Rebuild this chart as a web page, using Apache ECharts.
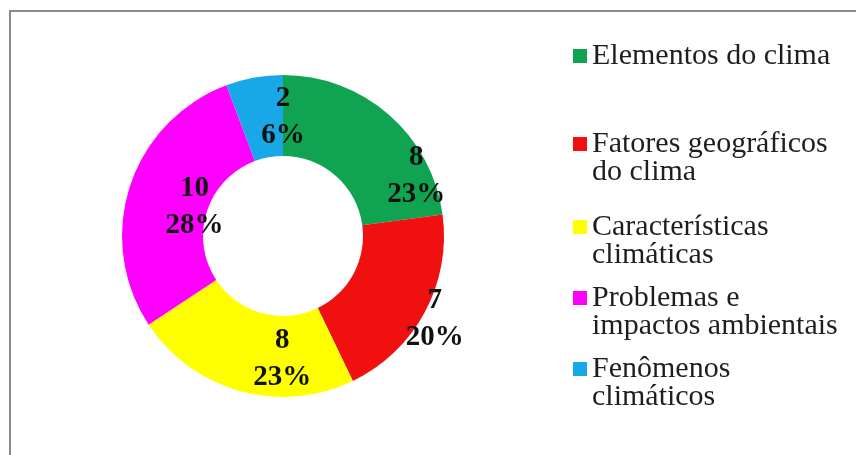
<!DOCTYPE html>
<html>
<head>
<meta charset="utf-8">
<script src="https://cdn.jsdelivr.net/npm/echarts@6/dist/echarts.min.js"></script>
<style>
html,body{margin:0;padding:0;background:#fff;}
#chart{width:856px;height:455px;}
</style>
</head>
<body>
<div id="chart"></div>
<script>
// ---- data ----
const categories = [
  "Elementos do clima",
  "Fatores geográficos do clima",
  "Características climáticas",
  "Problemas e impactos ambientais",
  "Fenômenos climáticos"
];
const legendLabels = [
  "Elementos do clima",
  "Fatores geográficos\ndo clima",
  "Características\nclimáticas",
  "Problemas e\nimpactos ambientais",
  "Fenômenos\nclimáticos"
];
const counts = [8, 7, 8, 10, 2];
const percentLabels = ["23%", "20%", "23%", "28%", "6%"];

// ---- styling ----
const colors = ["#10a452", "#f01010", "#ffff00", "#ff00ff", "#18a8e8"];
const labelShift = [[52, 33], [43, 24], [32, 4], [29, 9], [22, 3]];
const legendIconY = [55, 143, 226, 297, 368];
const legendLineH = 28;

const chart = echarts.init(document.getElementById('chart'), null, {renderer: 'canvas'});

const legends = categories.map(function (c, i) {
  const multi = legendLabels[i].indexOf('\n') >= 0;
  return {
    data: [c],
    orient: 'vertical',
    left: 573,
    top: legendIconY[i] - (multi ? 1.5 * legendLineH : 0.5 * legendLineH),
    padding: 0,
    icon: 'rect',
    itemWidth: 14,
    itemHeight: 14,
    itemGap: 0,
    selectedMode: false,
    formatter: function () {
      return multi ? '\n' + legendLabels[i] : legendLabels[i];
    },
    textStyle: {
      fontFamily: 'Liberation Serif',
      fontSize: 30,
      lineHeight: legendLineH,
      color: '#1e1e1e'
    }
  };
});

chart.setOption({
  backgroundColor: '#ffffff',
  animation: false,
  color: colors,
  legend: legends,
  graphic: [{
    type: 'rect',
    shape: {x: 10, y: 11, width: 900, height: 460},
    style: {fill: 'none', stroke: '#8a8a8a', lineWidth: 2},
    silent: true
  }],
  series: [{
    type: 'pie',
    center: [283, 236],
    radius: [80, 161],
    startAngle: 90,
    clockwise: true,
    avoidLabelOverlap: false,
    data: categories.map(function (c, i) { return {name: c, value: counts[i]}; }),
    label: {
      show: true,
      position: 'inside',
      formatter: function (p) { return counts[p.dataIndex] + '\n' + percentLabels[p.dataIndex]; },
      fontFamily: 'Liberation Serif',
      fontWeight: 'bold',
      fontSize: 29,
      lineHeight: 37,
      color: '#111'
    },
    labelLine: {show: false},
    labelLayout: function (p) {
      return {dx: labelShift[p.dataIndex][0], dy: labelShift[p.dataIndex][1]};
    },
    itemStyle: {borderWidth: 0},
    emphasis: {disabled: true}
  }]
});
</script>
</body>
</html>
